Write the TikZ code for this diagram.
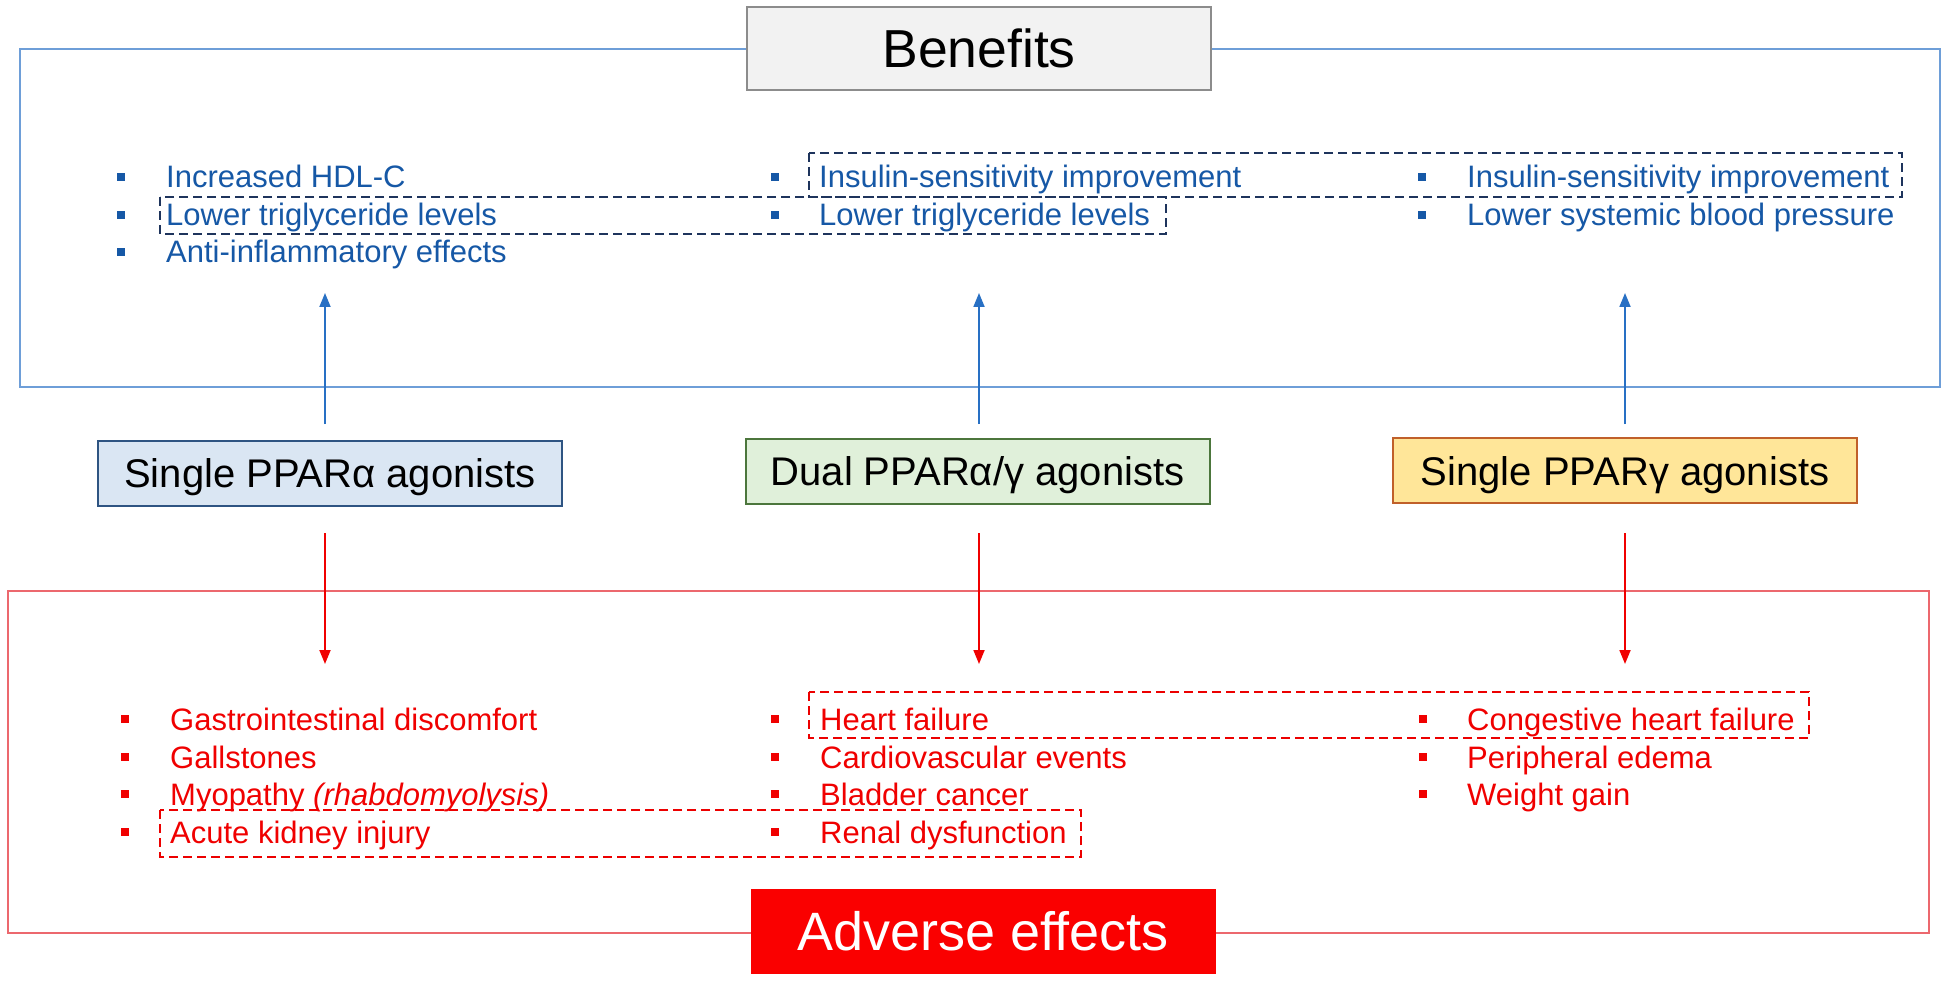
\documentclass[tikz,border=0pt]{standalone}
\usepackage{fontspec}
\setmainfont{Liberation Sans}
\usetikzlibrary{arrows.meta}
\definecolor{btext}{RGB}{22,88,166}
\definecolor{bframe}{RGB}{110,158,216}
\definecolor{barrowc}{RGB}{40,112,196}
\definecolor{bdash}{RGB}{30,52,92}
\definecolor{rtext}{RGB}{240,0,0}
\definecolor{rframe}{RGB}{236,104,110}
\definecolor{rdash}{RGB}{236,0,0}
\definecolor{benfill}{RGB}{242,242,242}
\definecolor{bendraw}{RGB}{140,140,140}
\definecolor{afill}{RGB}{218,230,243}
\definecolor{adraw}{RGB}{46,84,130}
\definecolor{dfill}{RGB}{224,240,218}
\definecolor{ddraw}{RGB}{76,118,60}
\definecolor{gfill}{RGB}{255,230,153}
\definecolor{gdraw}{RGB}{192,96,42}
\definecolor{advred}{RGB}{250,0,0}
\begin{document}
\begin{tikzpicture}[x=1pt,y=-1pt,
  framestyle/.style={line width=2pt},
  agbox/.style={draw, line width=2pt, inner sep=0pt, minimum width=464pt, minimum height=65pt,
     text height=29pt, text depth=0pt, font=\fontsize{40}{48}\selectfont},
  item/.style={anchor=base west, inner sep=0pt, font=\fontsize{31}{37}\selectfont},
  bitem/.style={item, text=btext},
  ritem/.style={item, text=rtext},
  bbul/.style={fill=btext, inner sep=0pt, minimum size=8.5pt},
  rbul/.style={fill=rtext, inner sep=0pt, minimum size=8.5pt},
  barrow/.style={draw=barrowc, line width=1.8pt, -{Triangle[length=14pt,width=11pt]}},
  rarrow/.style={draw=rtext, line width=1.8pt, -{Triangle[length=14pt,width=11pt]}},
  bdashed/.style={draw=bdash, line width=2.2pt, dash pattern=on 9pt off 5pt},
  rdashed/.style={draw=rdash, line width=2.2pt, dash pattern=on 9pt off 5pt}
]
\path[fill=white] (0,0) rectangle (1950,981);
\useasboundingbox (0,0) rectangle (1950,981);

% frames
\draw[framestyle, draw=bframe] (20,49) rectangle (1940,387);
\draw[framestyle, draw=rframe] (8,591) rectangle (1929,933);

% title boxes
\node[draw=bendraw, fill=benfill, line width=2pt, inner sep=0pt, minimum width=464pt, minimum height=83pt,
      text height=38pt, text depth=0pt, font=\fontsize{53.5}{60}\selectfont] (ben) at (979,48.5) {Benefits};
\node[draw=advred, fill=advred, text=white, inner sep=0pt, minimum width=464pt, minimum height=84pt,
      text height=39pt, text depth=0pt, font=\fontsize{54}{60}\selectfont] (adv) at (983,931) {Adverse effects};

% agonist boxes
\node[agbox, draw=adraw, fill=afill] (a1) at (330,473) {Single PPARα agonists};
\node[agbox, draw=ddraw, fill=dfill] (a2) at (977.5,471) {Dual PPARα/γ agonists};
\node[agbox, draw=gdraw, fill=gfill] (a3) at (1625,470.5) {Single PPARγ agonists};

% arrow end points
\coordinate (bs1) at (325,424); \coordinate (bt1) at (325,293);
\coordinate (bs2) at (979,424); \coordinate (bt2) at (979,293);
\coordinate (bs3) at (1625,424); \coordinate (bt3) at (1625,293);
\coordinate (rs1) at (325,533); \coordinate (rt1) at (325,664);
\coordinate (rs2) at (979,533); \coordinate (rt2) at (979,664);
\coordinate (rs3) at (1625,533); \coordinate (rt3) at (1625,664);
\draw[barrow] (bs1) -- (bt1);
\draw[barrow] (bs2) -- (bt2);
\draw[barrow] (bs3) -- (bt3);
\draw[rarrow] (rs1) -- (rt1);
\draw[rarrow] (rs2) -- (rt2);
\draw[rarrow] (rs3) -- (rt3);

% dashed groupings
\draw[bdashed] (160,197) rectangle (1166,234);
\draw[bdashed] (809,153) rectangle (1902,197);
\draw[rdashed] (809,692) rectangle (1809,738);
\draw[rdashed] (160,810) rectangle (1081,857);

% benefits column 1
\node[bbul] (bb11) at (121,177) {};
\node[bitem] (bi11) at (166,188) {Increased HDL-C};
\node[bbul] (bb12) at (121,215) {};
\node[bitem] (bi12) at (166,226) {Lower triglyceride levels};
\node[bbul] (bb13) at (121,252) {};
\node[bitem] (bi13) at (166,263) {Anti-inflammatory effects};
% benefits column 2
\node[bbul] (bb21) at (775,177) {};
\node[bitem] (bi21) at (819,188) {Insulin-sensitivity improvement};
\node[bbul] (bb22) at (775,215) {};
\node[bitem] (bi22) at (819,226) {Lower triglyceride levels};
% benefits column 3
\node[bbul] (bb31) at (1422,177) {};
\node[bitem] (bi31) at (1467,188) {Insulin-sensitivity improvement};
\node[bbul] (bb32) at (1422,215) {};
\node[bitem] (bi32) at (1467,226) {Lower systemic blood pressure};

% adverse column 1
\node[rbul] (rb11) at (125,719) {};
\node[ritem] (ri11) at (170,730) {Gastrointestinal discomfort};
\node[rbul] (rb12) at (125,757) {};
\node[ritem] (ri12) at (170,768) {Gallstones};
\node[rbul] (rb13) at (125,794) {};
\node[ritem] (ri13) at (170,805) {Myopathy \textit{(rhabdomyolysis)}};
\node[rbul] (rb14) at (125,832) {};
\node[ritem] (ri14) at (170,843) {Acute kidney injury};
% adverse column 2
\node[rbul] (rb21) at (775,719) {};
\node[ritem] (ri21) at (820,730) {Heart failure};
\node[rbul] (rb22) at (775,757) {};
\node[ritem] (ri22) at (820,768) {Cardiovascular events};
\node[rbul] (rb23) at (775,794) {};
\node[ritem] (ri23) at (820,805) {Bladder cancer};
\node[rbul] (rb24) at (775,832) {};
\node[ritem] (ri24) at (820,843) {Renal dysfunction};
% adverse column 3
\node[rbul] (rb31) at (1423,719) {};
\node[ritem] (ri31) at (1467,730) {Congestive heart failure};
\node[rbul] (rb32) at (1423,757) {};
\node[ritem] (ri32) at (1467,768) {Peripheral edema};
\node[rbul] (rb33) at (1423,794) {};
\node[ritem] (ri33) at (1467,805) {Weight gain};
\end{tikzpicture}
\end{document}
